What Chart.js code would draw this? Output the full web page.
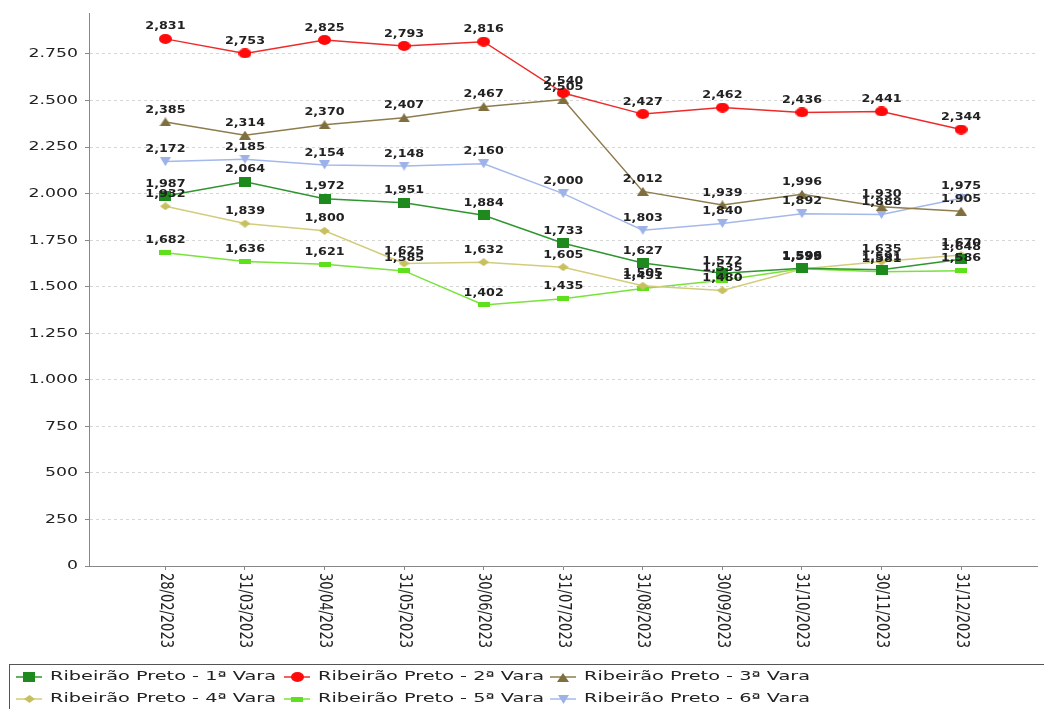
<!DOCTYPE html>
<html><head><meta charset="utf-8">
<script src="https://cdn.jsdelivr.net/npm/chart.js@4.4.0/dist/chart.umd.min.js"></script>
<style>html,body{margin:0;padding:0;background:#fff;}#wrap{width:1044px;height:709px;position:relative;}</style>
</head><body><div id="wrap"><canvas id="c" width="1044" height="709"></canvas></div>
<script>
const categories = ['28/02/2023','31/03/2023','30/04/2023','31/05/2023','30/06/2023','31/07/2023','31/08/2023','30/09/2023','31/10/2023','30/11/2023','31/12/2023'];
const vara1 = [1987,2064,1972,1951,1884,1733,1627,1572,1599,1591,1648];
const vara2 = [2831,2753,2825,2793,2816,2540,2427,2462,2436,2441,2344];
const vara3 = [2385,2314,2370,2407,2467,2505,2012,1939,1996,1930,1905];
const vara4 = [1932,1839,1800,1625,1632,1605,1505,1480,1595,1635,1670];
const vara5 = [1682,1636,1621,1585,1402,1435,1491,1535,1596,1581,1586];
const vara6 = [2172,2185,2154,2148,2160,2000,1803,1840,1892,1888,1975];
const seriesNames = ['Ribeirão Preto - 1ª Vara','Ribeirão Preto - 2ª Vara','Ribeirão Preto - 3ª Vara','Ribeirão Preto - 4ª Vara','Ribeirão Preto - 5ª Vara','Ribeirão Preto - 6ª Vara'];
const yTickValues = [0,250,500,750,1000,1250,1500,1750,2000,2250,2500,2750];

const FONT = '"DejaVu Sans", Verdana, sans-serif';
const SX = 1.33;

function marker(shape, w, h, color) {
  const c = document.createElement('canvas');
  c.width = w; c.height = h;
  const g = c.getContext('2d');
  g.fillStyle = color;
  g.beginPath();
  if (shape === 'square' || shape === 'rect') { g.rect(0, 0, w, h); }
  else if (shape === 'circle') { g.ellipse(w/2, h/2, w/2, h/2, 0, 0, Math.PI*2); }
  else if (shape === 'up') { g.moveTo(w/2, 0); g.lineTo(w, h); g.lineTo(0, h); g.closePath(); }
  else if (shape === 'down') { g.moveTo(0, 0); g.lineTo(w, 0); g.lineTo(w/2, h); g.closePath(); }
  else if (shape === 'diamond') { g.moveTo(w/2, 0); g.lineTo(w, h/2); g.lineTo(w/2, h); g.lineTo(0, h/2); g.closePath(); }
  g.fill();
  return c;
}

const styles = [
  {line:'#2f962f', shape: marker('square', 12, 10, '#1e8a1e')},
  {line:'#ee2b2b', shape: marker('circle', 13, 10, '#ff0a0a')},
  {line:'#8e7c4c', shape: marker('up', 12, 9, '#7f6f3f')},
  {line:'#d2cd7a', shape: marker('diamond', 11, 8, '#c8c060')},
  {line:'#78e33a', shape: marker('rect', 12, 5, '#5fe01c')},
  {line:'#a5b8ea', shape: marker('down', 11, 9, '#9cb2e8')}
];
const allSeries = [vara1, vara2, vara3, vara4, vara5, vara6];

const datasets = allSeries.map((arr, k) => ({
  label: seriesNames[k],
  data: arr.map((v, i) => ({x: i, y: v})),
  borderColor: styles[k].line,
  backgroundColor: styles[k].line,
  borderWidth: 1.5,
  pointStyle: styles[k].shape,
  pointRadius: 5,
  pointHoverRadius: 5,
  tension: 0
}));

function fmtComma(v) { const s = String(v); return s.length > 3 ? s.slice(0, -3) + ',' + s.slice(-3) : s; }
function fmtDot(v) { const s = String(v); return s.length > 3 ? s.slice(0, -3) + '.' + s.slice(-3) : s; }

function stretchText(ctx, text, x, y, align, sx) {
  ctx.save();
  ctx.translate(x, y);
  ctx.scale(sx, 1);
  ctx.textAlign = align;
  ctx.fillText(text, 0, 0);
  ctx.restore();
}

const textPlugin = {
  id: 'textPlugin',
  afterDatasetsDraw(chart) {
    const ctx = chart.ctx;
    const xs = chart.scales.x, ys = chart.scales.y;
    ctx.save();
    ctx.font = 'bold 10px ' + FONT;
    ctx.fillStyle = '#222';
    ctx.textBaseline = 'middle';
    allSeries.forEach(arr => {
      arr.forEach((v, i) => {
        const px = xs.getPixelForValue(i), py = ys.getPixelForValue(v);
        stretchText(ctx, fmtComma(v), px, py - 12, 'center', 1.27);
      });
    });
    ctx.restore();
  },
  afterDraw(chart) {
    const ctx = chart.ctx;
    const xs = chart.scales.x, ys = chart.scales.y;
    ctx.save();
    // y tick labels
    ctx.font = '13px ' + FONT;
    ctx.fillStyle = '#222';
    ctx.textBaseline = 'middle';
    yTickValues.forEach(v => stretchText(ctx, fmtDot(v), 78, ys.getPixelForValue(v), 'right', SX));
    // x labels rotated clockwise
    ctx.font = '13px ' + FONT;
    ctx.fillStyle = '#222';
    categories.forEach((c, i) => {
      const px = xs.getPixelForValue(i);
      ctx.save();
      ctx.translate(px, 573);
      ctx.scale(SX, 1);
      ctx.rotate(Math.PI / 2);
      ctx.textAlign = 'left';
      ctx.textBaseline = 'middle';
      ctx.fillText(c, 0, 0);
      ctx.restore();
    });
    // legend
    ctx.strokeStyle = '#555';
    ctx.lineWidth = 1;
    ctx.strokeRect(9.5, 664.5, 1040, 60);
    const cols = [29, 297, 563];
    const rows = [677, 699];
    ctx.font = '13px ' + FONT;
    ctx.fillStyle = '#222';
    ctx.textBaseline = 'middle';
    seriesNames.forEach((name, k) => {
      const cx = cols[k % 3], cy = rows[Math.floor(k / 3)];
      ctx.strokeStyle = styles[k].line;
      ctx.lineWidth = 1.5;
      ctx.beginPath(); ctx.moveTo(cx - 13, cy); ctx.lineTo(cx + 13, cy); ctx.stroke();
      const m = styles[k].shape;
      ctx.drawImage(m, Math.round(cx - m.width / 2), Math.round(cy - m.height / 2));
      const w = ctx.measureText(name).width;
      stretchText(ctx, name, cx + 21, cy, 'left', 226 / w);
    });
    ctx.restore();
  }
};

new Chart(document.getElementById('c'), {
  type: 'line',
  data: { datasets },
  options: {
    responsive: false,
    animation: false,
    devicePixelRatio: 1,
    layout: { padding: { top: 13, right: 2, left: 0, bottom: 0 } },
    plugins: { legend: { display: false }, tooltip: { enabled: false } },
    scales: {
      x: {
        type: 'linear', min: -0.96, max: 10.96,
        afterBuildTicks: s => { s.ticks = categories.map((_, i) => ({ value: i })); },
        afterFit: s => { s.height = 143; },
        ticks: { display: false },
        grid: { drawOnChartArea: false, drawTicks: true, tickLength: 4, tickColor: '#888' },
        border: { color: '#888', width: 1 }
      },
      y: {
        min: 0, max: 2970,
        afterBuildTicks: s => { s.ticks = yTickValues.map(v => ({ value: v })); },
        afterFit: s => { s.width = 89; },
        ticks: { display: false },
        grid: { color: '#d6d6d6', lineWidth: 1, drawTicks: true, tickLength: 4, tickColor: '#888' },
        border: { color: '#888', width: 1, dash: [3, 3] }
      }
    }
  },
  plugins: [textPlugin]
});
</script>
</body></html>
